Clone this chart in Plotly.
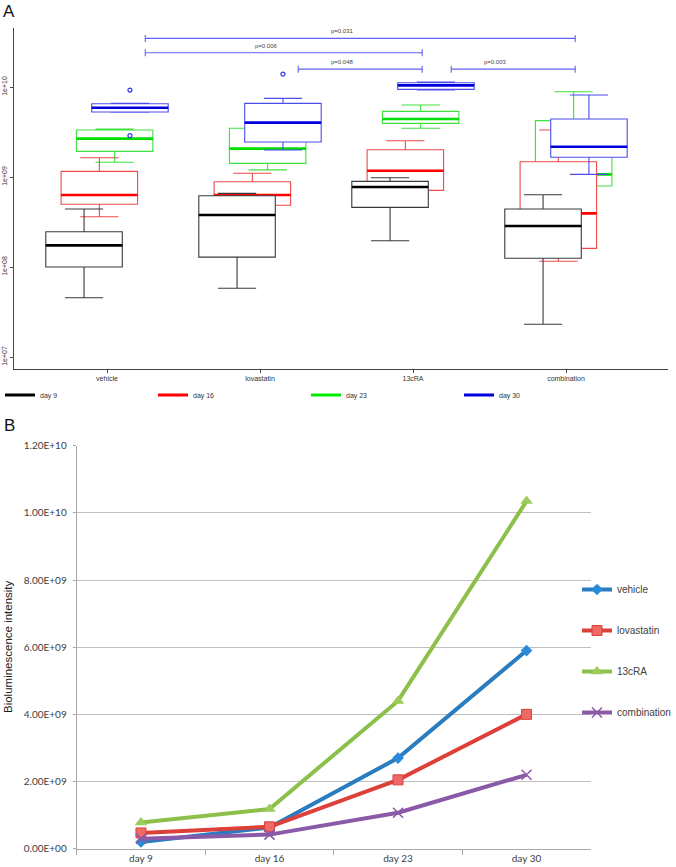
import math
import plotly.graph_objects as go

W, H = 676, 867

# ---------------- Panel A data (box statistics) ----------------
groups = ["vehicle", "lovastatin", "13cRA", "combination"]
days = ["day 9", "day 16", "day 23", "day 30"]

# one list per day, values in group order (vehicle, lovastatin, 13cRA, combination)
lower = [
    [4.56e7, 5.8e7, 1.96e8, 2.31e7],
    [3.62e8, 4.0e8, 5.5e8, 1.16e8],
    [1.46e9, 1.2e9, 3.48e9, 5.0e8],
    [5.24e9, 2.0e9, 9.26e9, 1.07e9],
]
q1 = [
    [1.0e8, 1.29e8, 4.6e8, 1.25e8],
    [4.98e8, 4.86e8, 7.11e8, 1.61e8],
    [1.93e9, 1.42e9, 3.95e9, 7.94e8],
    [5.28e9, 2.45e9, 9.43e9, 1.66e9],
]
median = [
    [1.74e8, 3.78e8, 7.74e8, 2.86e8],
    [6.31e8, 6.31e8, 1.175e9, 3.95e8],
    [2.67e9, 2.07e9, 4.41e9, 1.07e9],
    [5.89e9, 4.02e9, 1.044e10, 2.17e9],
]
q3 = [
    [2.47e8, 6.2e8, 8.96e8, 4.41e8],
    [1.156e9, 8.87e8, 2.01e9, 1.48e9],
    [3.33e9, 3.48e9, 5.37e9, 4.23e9],
    [6.53e9, 6.59e9, 1.117e10, 4.41e9],
]
upper = [
    [4.41e8, 6.59e8, 9.82e8, 6.35e8],
    [1.64e9, 1.1e9, 2.53e9, 3.33e9],
    [3.41e9, 4.88e9, 6.31e9, 8.87e9],
    [6.6e9, 7.48e9, 1.137e10, 8.15e9],
]
outlier_group = ["vehicle", "vehicle", "lovastatin"]
outlier_day = ["day 30", "day 30", "day 30"]
outlier_value = [9.26e9, 2.88e9, 1.39e10]

p_from = ["vehicle", "vehicle", "lovastatin", "13cRA"]
p_to = ["combination", "13cRA", "13cRA", "combination"]
p_level = [3.47e10, 2.4e10, 1.58e10, 1.58e10]
p_label = ["p=0.031", "p=0.006", "p=0.048", "p=0.003"]

a_ticks = [1e7, 1e8, 1e9, 1e10]
a_ticktext = ["1e+07", "1e+08", "1e+09", "1e+10"]

# ---------------- Panel B data ----------------
b_days = ["day 9", "day 16", "day 23", "day 30"]
b_series = ["vehicle", "lovastatin", "13cRA", "combination"]
b_vehicle = [2.0e8, 6.3e8, 2.7e9, 5.9e9]
b_lovastatin = [4.7e8, 6.5e8, 2.05e9, 4.0e9]
b_13cRA = [7.8e8, 1.18e9, 4.4e9, 1.035e10]
b_combination = [3.0e8, 4.2e8, 1.07e9, 2.2e9]
b_ticks = [0, 2e9, 4e9, 6e9, 8e9, 1.0e10, 1.2e10]
b_ticktext = ["0.00E+00", "2.00E+09", "4.00E+09", "6.00E+09", "8.00E+09", "1.00E+10", "1.20E+10"]

# ---------------- styles ----------------
day_offset = {"day 9": -0.15, "day 16": -0.05, "day 23": 0.05, "day 30": 0.15}
box_line = {"day 9": "#3a3a3a", "day 16": "#f04a4a", "day 23": "#3ee03e", "day 30": "#4d4def"}
med_col = {"day 9": "#000000", "day 16": "#ff0000", "day 23": "#00e000", "day 30": "#0000dd"}
draw_order = ["day 23", "day 16", "day 30", "day 9"]
FA = "Liberation Sans, Arial, sans-serif"

fig = go.Figure()
gx = {g: i for i, g in enumerate(groups)}

for d in draw_order:
    k = days.index(d)
    xs = [i + day_offset[d] for i in range(len(groups))]
    fig.add_trace(go.Box(
        x=xs, q1=q1[k], median=median[k], q3=q3[k],
        lowerfence=lower[k], upperfence=upper[k],
        width=0.5, whiskerwidth=0.5, boxpoints=False,
        fillcolor="white", line=dict(color=box_line[d], width=1.1),
        xaxis="x", yaxis="y", showlegend=False, hoverinfo="skip",
    ))
    # thick median bar (degenerate box at the median)
    fig.add_trace(go.Box(
        x=xs, q1=median[k], median=median[k], q3=median[k],
        lowerfence=median[k], upperfence=median[k],
        width=0.5, whiskerwidth=0, boxpoints=False,
        fillcolor="rgba(0,0,0,0)", line=dict(color=med_col[d], width=2.6),
        xaxis="x", yaxis="y", showlegend=False, hoverinfo="skip",
    ))

# outliers
fig.add_trace(go.Scatter(
    x=[gx[g] + day_offset[d] for g, d in zip(outlier_group, outlier_day)],
    y=outlier_value, mode="markers",
    marker=dict(symbol="circle-open", size=4, color="#3030ee", line=dict(width=1.2)),
    xaxis="x", yaxis="y", showlegend=False, hoverinfo="skip",
))

# p-value brackets
bx, by = [], []
for f, t, lv in zip(p_from, p_to, p_level):
    bx += [gx[f] + 0.25, gx[t] + 0.06, None]
    by += [lv, lv, None]
fig.add_trace(go.Scatter(
    x=bx, y=by, mode="lines+markers",
    line=dict(color="#6262f2", width=1.1),
    marker=dict(symbol="line-ns", size=5, line=dict(color="#6262f2", width=1.1)),
    xaxis="x", yaxis="y", showlegend=False, hoverinfo="skip",
))
annotations = []
for f, t, lv, lab in zip(p_from, p_to, p_level, p_label):
    annotations.append(dict(
        x=(gx[f] + gx[t]) / 2 + 0.04, y=math.log10(lv), xref="x", yref="y",
        text=lab, showarrow=False, yshift=7, font=dict(size=6, color="#444", family=FA),
    ))

# legend entries panel A
for d in days:
    fig.add_trace(go.Scatter(
        x=[None], y=[None], mode="lines", name=d,
        line=dict(color=med_col[d] if d != "day 23" else "#00ee00", width=3),
        xaxis="x", yaxis="y", legend="legend",
    ))

# ---------------- Panel B traces ----------------
b_values = {"vehicle": b_vehicle, "lovastatin": b_lovastatin, "13cRA": b_13cRA, "combination": b_combination}
b_color = {"vehicle": "#2a7cc0", "lovastatin": "#dc4038", "13cRA": "#8cc04a", "combination": "#8a5aa8"}
b_marker = {
    "vehicle": dict(symbol="diamond", size=9, color="#2a8ad8"),
    "lovastatin": dict(symbol="square", size=10, color="#ee6a66", line=dict(color="#dc4038", width=1)),
    "13cRA": dict(symbol="triangle-up", size=11, color="#9ccc5a"),
    "combination": dict(symbol="x-thin", size=10, color="#8a5aa8", line=dict(color="#8a5aa8", width=1.5)),
}
for s in b_series:
    fig.add_trace(go.Scatter(
        x=b_days, y=b_values[s], mode="lines+markers", name=s,
        line=dict(color=b_color[s], width=4), marker=b_marker[s],
        xaxis="x2", yaxis="y2", legend="legend2", legendgroup=s,
    ))

annotations += [
    dict(x=9 / W, y=1 - 12 / H, xref="paper", yref="paper", text="A", showarrow=False,
         font=dict(size=17, color="#111", family=FA), xanchor="center", yanchor="middle"),
    dict(x=9 / W, y=1 - 425 / H, xref="paper", yref="paper", text="B", showarrow=False,
         font=dict(size=17, color="#111", family=FA), xanchor="center", yanchor="middle"),
    dict(x=8 / W, y=1 - 647 / H, xref="paper", yref="paper", text="Bioluminescence intensity",
         showarrow=False, textangle=-90, font=dict(size=11.5, color="#222", family=FA),
         xanchor="center", yanchor="middle"),
]

fig.update_layout(
    width=W, height=H, margin=dict(l=0, r=0, t=0, b=0, autoexpand=False),
    paper_bgcolor="white", plot_bgcolor="white", boxmode="overlay",
    annotations=annotations,
    xaxis=dict(
        domain=[14 / W, 668 / W], range=[(14 - 107) / 153, (668 - 107) / 153], anchor="y",
        tickvals=list(range(len(groups))), ticktext=groups, showline=True, linecolor="#444",
        linewidth=1, ticks="outside", ticklen=3, tickcolor="#444", showgrid=False, zeroline=False,
        tickfont=dict(size=7, color="#333", family=FA), automargin=False,
    ),
    yaxis=dict(
        domain=[1 - 369 / H, 1 - 28 / H], type="log", range=[6.867, 10.656], anchor="x",
        tickvals=a_ticks, ticktext=a_ticktext, tickangle=-90, ticks="outside", ticklen=3,
        tickcolor="#444", showline=True, linecolor="#444", linewidth=1, showgrid=False,
        zeroline=False, tickfont=dict(size=7, color="#333", family=FA), automargin=False,
    ),
    xaxis2=dict(
        domain=[76.7 / W, 590.8 / W], anchor="y2", type="category", categoryorder="array",
        categoryarray=b_days, range=[-0.5, 3.5], showline=True, linecolor="#a8a8a8",
        ticks="outside", tickson="boundaries", ticklen=5, tickcolor="#a8a8a8", showgrid=False,
        tickfont=dict(size=10, color="#404040", family="Lato, sans-serif"), automargin=False,
    ),
    yaxis2=dict(
        domain=[1 - 848.7 / H, 1 - 445.7 / H], anchor="x2", range=[0, 1.2e10],
        tickvals=b_ticks, ticktext=b_ticktext, showgrid=True, gridcolor="#c0c0c0",
        showline=True, linecolor="#a8a8a8", ticks="outside", ticklen=3, tickcolor="#a8a8a8",
        zeroline=False, tickfont=dict(size=10, color="#404040", family="Lato, sans-serif"),
        ticklabelstandoff=4, automargin=False,
    ),
    legend=dict(
        orientation="h", x=0, xanchor="left", y=1 - 395 / H, yanchor="middle",
        entrywidth=108, entrywidthmode="pixels", font=dict(size=7, color="#333", family=FA),
        bgcolor="rgba(0,0,0,0)",
    ),
    legend2=dict(
        x=577 / W, xanchor="left", y=1 - 575 / H, yanchor="top", tracegroupgap=22,
        font=dict(size=10, color="#404040", family=FA), bgcolor="rgba(0,0,0,0)",
    ),
)

fig.write_html(
    "out.html",
    config={"displayModeBar": False},
    post_script="document.body.style.margin='0';document.body.style.overflow='hidden';",
)
